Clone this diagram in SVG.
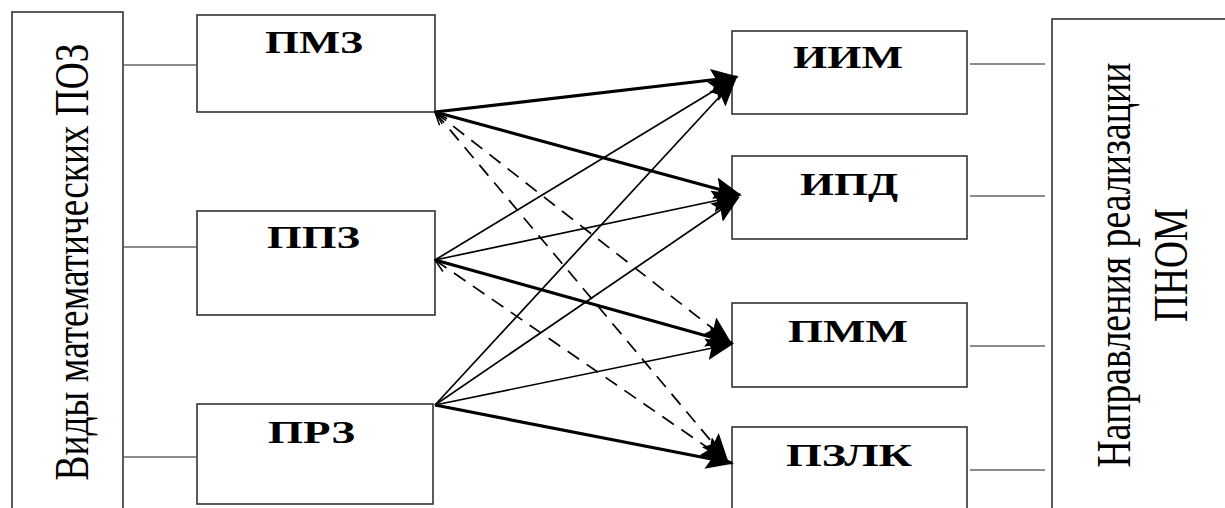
<svg xmlns="http://www.w3.org/2000/svg" width="1225" height="508" viewBox="0 0 1225 508">
<style>
.box{fill:#fff;stroke:#333;stroke-width:1.6}
.lbl{font-family:"Liberation Serif","DejaVu Serif","Times New Roman",serif;font-weight:bold;font-size:31px;fill:#000}
.vt{font-family:"Liberation Serif","DejaVu Serif","Times New Roman",serif;font-size:48px;fill:#000}
.link{stroke:#666;stroke-width:1.6;fill:none}
.thick{stroke:#000;stroke-width:3.2;fill:none}
.thin{stroke:#000;stroke-width:1.7;fill:none}
.dash{stroke:#000;stroke-width:1.7;fill:none;stroke-dasharray:14 9}
</style>
<defs>
<marker id="ah" markerUnits="userSpaceOnUse" markerWidth="28" markerHeight="22" viewBox="0 0 28 22" refX="26" refY="11" orient="auto">
<path d="M0,0 L28,11 L0,22 L5,11 Z" fill="#000"/>
</marker>
<marker id="ahs" markerUnits="userSpaceOnUse" markerWidth="16" markerHeight="12" viewBox="0 0 16 12" refX="1" refY="6" orient="auto">
<path d="M14,1 L1,6 L14,11" fill="none" stroke="#000" stroke-width="1.5"/>
</marker>
</defs>
<g id="left-panel">
<rect class="box" x="12" y="12" width="111" height="510"/>
<text class="vt" transform="translate(88,262) rotate(-90)" text-anchor="middle" textLength="437" lengthAdjust="spacingAndGlyphs">Виды математических ПОЗ</text>
</g>
<g id="right-panel">
<rect class="box" x="1052" y="19" width="190" height="510"/>
<text class="vt" transform="translate(1130,265) rotate(-90)" text-anchor="middle" textLength="405" lengthAdjust="spacingAndGlyphs">Направления реализации</text>
<text class="vt" transform="translate(1187,265) rotate(-90)" text-anchor="middle" textLength="114" lengthAdjust="spacingAndGlyphs">ПНОМ</text>
</g>
<g id="pmz"><rect class="box" x="197" y="15" width="238" height="97"/><text class="lbl" x="265" y="53" textLength="98" lengthAdjust="spacingAndGlyphs">ПМЗ</text></g>
<g id="ppz"><rect class="box" x="197" y="211" width="238" height="104"/><text class="lbl" x="267" y="248" textLength="93" lengthAdjust="spacingAndGlyphs">ППЗ</text></g>
<g id="prz"><rect class="box" x="197" y="404" width="236" height="100"/><text class="lbl" x="268" y="443" textLength="87" lengthAdjust="spacingAndGlyphs">ПРЗ</text></g>
<g id="iim"><rect class="box" x="732" y="31" width="235" height="83"/><text class="lbl" x="793" y="68" textLength="110" lengthAdjust="spacingAndGlyphs">ИИМ</text></g>
<g id="ipd"><rect class="box" x="732" y="156" width="235" height="83"/><text class="lbl" x="800" y="195" textLength="98" lengthAdjust="spacingAndGlyphs">ИПД</text></g>
<g id="pmm"><rect class="box" x="732" y="303" width="235" height="84"/><text class="lbl" x="788" y="342" textLength="120" lengthAdjust="spacingAndGlyphs">ПММ</text></g>
<g id="pzlk"><rect class="box" x="732" y="427" width="235" height="100"/><text class="lbl" x="786" y="466" textLength="126" lengthAdjust="spacingAndGlyphs">ПЗЛК</text></g>
<g id="connectors">
<line class="link" x1="123" y1="65" x2="197" y2="65"/>
<line class="link" x1="123" y1="247" x2="197" y2="247"/>
<line class="link" x1="123" y1="457" x2="197" y2="457"/>
<line class="link" x1="970" y1="64" x2="1045" y2="64"/>
<line class="link" x1="970" y1="196" x2="1045" y2="196"/>
<line class="link" x1="970" y1="346" x2="1045" y2="346"/>
<line class="link" x1="970" y1="470" x2="1045" y2="470"/>
<line class="thin" x1="435" y1="260" x2="735" y2="78" marker-end="url(#ah)"/>
<line class="thin" x1="435" y1="405" x2="735" y2="80" marker-end="url(#ah)"/>
<line class="thin" x1="435" y1="260" x2="738" y2="196" marker-end="url(#ah)"/>
<line class="thin" x1="435" y1="405" x2="738" y2="198" marker-end="url(#ah)"/>
<line class="thin" x1="435" y1="405" x2="732" y2="344" marker-end="url(#ah)"/>
<line class="dash" x1="435" y1="112" x2="730" y2="342" marker-start="url(#ahs)" marker-end="url(#ah)"/>
<line class="dash" x1="435" y1="112" x2="727" y2="460" marker-start="url(#ahs)" marker-end="url(#ah)"/>
<line class="dash" x1="435" y1="260" x2="727" y2="461" marker-start="url(#ahs)" marker-end="url(#ah)"/>
<line class="thick" x1="435" y1="112" x2="737" y2="77" marker-end="url(#ah)"/>
<line class="thick" x1="435" y1="112" x2="740" y2="195" marker-end="url(#ah)"/>
<line class="thick" x1="435" y1="260" x2="732" y2="343" marker-end="url(#ah)"/>
<line class="thick" x1="435" y1="405" x2="732" y2="463" marker-end="url(#ah)"/>
</g>
</svg>
